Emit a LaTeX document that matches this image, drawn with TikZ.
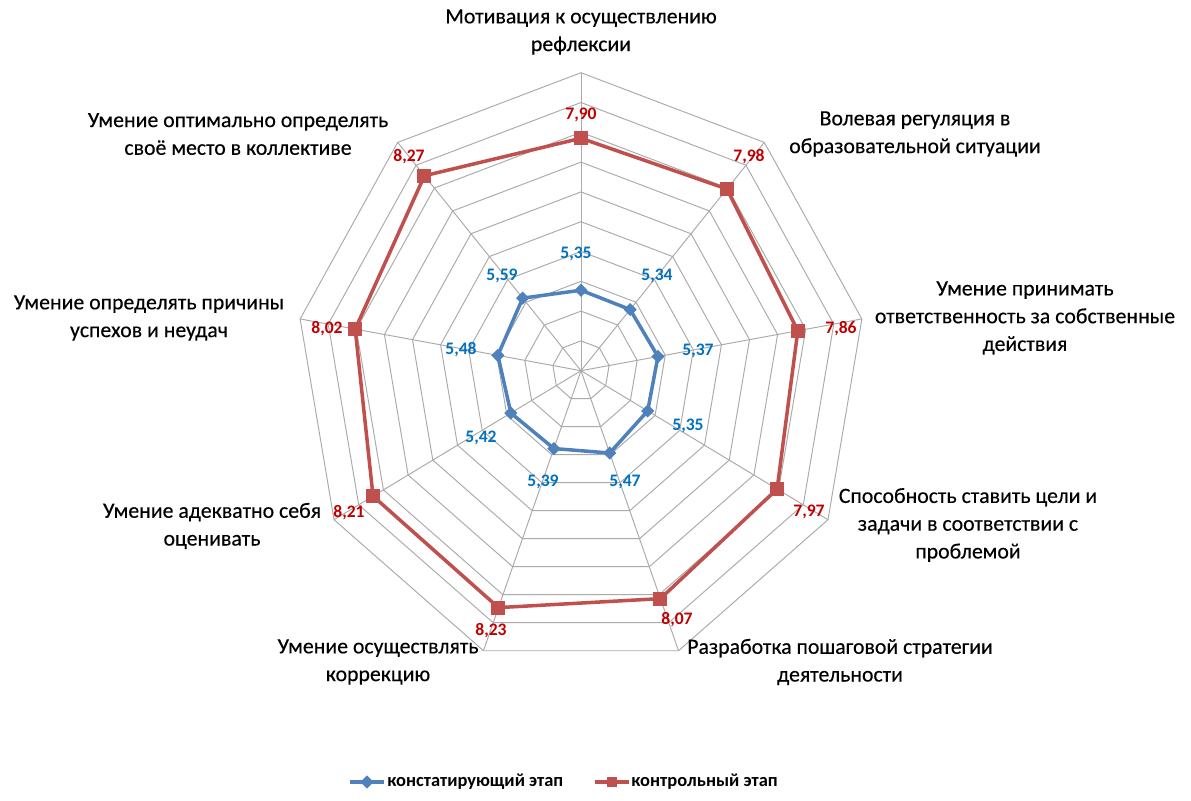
\documentclass[tikz,border=0pt]{standalone}
\usepackage{fontspec}
\setmainfont{Carlito}[UprightFeatures={FakeBold=0.3}]
\usepackage{xcolor}
\usepackage{tikz}
\usetikzlibrary{shapes.geometric,positioning,calc}
\definecolor{gridgray}{RGB}{170,170,170}
\definecolor{serblue}{RGB}{79,129,189}
\definecolor{serred}{RGB}{192,80,77}
\definecolor{lblblue}{RGB}{0,112,192}
\definecolor{lblred}{RGB}{192,0,0}
\newcommand{\RingStep}{29.8}
\tikzset{
  gridline/.style={draw=gridgray, line width=0.55pt},
  axislabel/.style={align=center, font=\fontsize{12.4}{15.8}\selectfont, inner sep=0pt},
  bluser/.style={draw=serblue, line width=2pt, line join=round},
  redser/.style={draw=serred, line width=2pt, line join=round},
  bluemark/.style={diamond, fill=serblue, minimum size=0.27cm, inner sep=0pt},
  redmark/.style={rectangle, fill=serred, minimum size=0.28cm, inner sep=0pt},
  bluenum/.style={text=lblblue, font=\bfseries\fontsize{10}{12}\selectfont, inner sep=0pt},
  rednum/.style={text=lblred, font=\bfseries\fontsize{10}{12}\selectfont, inner sep=0pt},
  legtext/.style={anchor=west, font=\bfseries\fontsize{10.5}{12}\selectfont, inner sep=0pt}
}

\begin{document}
\begin{tikzpicture}[x=0.02cm, y=-0.02cm]
  \useasboundingbox (0,0) rectangle (1191,801);
  \begin{scope}[shift={(581,370.7)}, xscale=0.957]
    \coordinate (ctr) at (0,0);
    % rings (scale 4 .. 9, step 0.5)
    \foreach \k in {1,...,10}{%
      \draw[gridline] (-90:\k*\RingStep)
        \foreach \i in {1,...,8}{ -- ({40*\i-90}:\k*\RingStep)} -- cycle;
    }
    \foreach \i in {0,...,8}
      \draw[gridline] (ctr) -- ({40*\i-90}:10*\RingStep);
    % data points
    \foreach \v [count=\i from 0] in {5.35,5.34,5.37,5.35,5.47,5.39,5.42,5.48,5.59}{%
      \pgfmathsetmacro{\rr}{(\v-4)*2*\RingStep}
      \coordinate (b\i) at ({40*\i-90}:\rr);
    }
    \foreach \v [count=\i from 0] in {7.90,7.98,7.86,7.97,8.07,8.23,8.21,8.02,8.27}{%
      \pgfmathsetmacro{\rr}{(\v-4)*2*\RingStep}
      \coordinate (r\i) at ({40*\i-90}:\rr);
    }
  \end{scope}

  \draw[bluser] (b0) -- (b1) -- (b2) -- (b3) -- (b4) -- (b5) -- (b6) -- (b7) -- (b8) -- cycle;
  \draw[redser] (r0) -- (r1) -- (r2) -- (r3) -- (r4) -- (r5) -- (r6) -- (r7) -- (r8) -- cycle;
  \foreach \i in {0,...,8}{%
    \node[bluemark] (bm\i) at (b\i) {};
    \node[redmark] (rm\i) at (r\i) {};
  }

  % value labels
  \node[rednum] (rv0) at (581,115) {7,90};
  \node[rednum] (rv1) at (749,157) {7,98};
  \node[rednum] (rv2) at (841,329) {7,86};
  \node[rednum] (rv3) at (809,512) {7,97};
  \node[rednum] (rv4) at (677,620) {8,07};
  \node[rednum] (rv5) at (491,631) {8,23};
  \node[rednum] (rv6) at (349,513) {8,21};
  \node[rednum] (rv7) at (327,329) {8,02};
  \node[rednum] (rv8) at (409,157) {8,27};
  \node[bluenum] (bv0) at (576,254) {5,35};
  \node[bluenum] (bv1) at (657,276) {5,34};
  \node[bluenum] (bv2) at (698,351) {5,37};
  \node[bluenum] (bv3) at (688,426) {5,35};
  \node[bluenum] (bv4) at (625,482) {5,47};
  \node[bluenum] (bv5) at (543,482) {5,39};
  \node[bluenum] (bv6) at (481,438) {5,42};
  \node[bluenum] (bv7) at (461,350) {5,48};
  \node[bluenum] (bv8) at (502,276) {5,59};

  % category labels
  \node[axislabel] (ax0) at (581,32) {Мотивация к осуществлению\\рефлексии};
  \node[axislabel] (ax1) at (915,134) {Волевая регуляция в\\образовательной ситуации};
  \node[axislabel] (ax2) at (1025,318) {Умение принимать\\ответственность за собственные\\действия};
  \node[axislabel] (ax3) at (968,525) {Способность ставить цели и\\задачи в соответствии с\\проблемой};
  \node[axislabel] (ax4) at (840,662) {Разработка пошаговой стратегии\\деятельности};
  \node[axislabel] (ax5) at (378,662) {Умение осуществлять\\коррекцию};
  \node[axislabel] (ax6) at (212,526) {Умение адекватно себя\\оценивать};
  \node[axislabel] (ax7) at (149,318) {Умение определять причины\\успехов и неудач};
  \node[axislabel] (ax8) at (238,134) {Умение оптимально определять\\своё место в коллективе};

  % legend
  \coordinate (lb1) at (350,782);
  \coordinate (lb2) at (384,782);
  \draw[bluser] (lb1) -- (lb2);
  \node[bluemark] (lbm) at ($(lb1)!0.5!(lb2)$) {};
  \node[legtext] (lbt) at (387,782) {констатирующий этап};
  \coordinate (lr1) at (595,782);
  \coordinate (lr2) at (629,782);
  \draw[redser] (lr1) -- (lr2);
  \node[redmark, minimum size=0.2cm] (lrm) at ($(lr1)!0.5!(lr2)$) {};
  \node[legtext] (lrt) at (631,782) {контрольный этап};
\end{tikzpicture}
\end{document}
